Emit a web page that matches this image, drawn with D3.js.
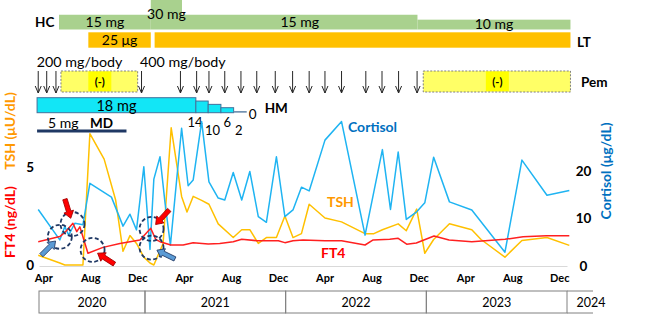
<!DOCTYPE html>
<html>
<head>
<meta charset="utf-8">
<script src="https://cdn.jsdelivr.net/npm/d3@7"></script>
<style>
  body { margin: 0; background: #fff; }
  svg { display: block; font-family: Lato, "Open Sans", sans-serif; }
</style>
</head>
<body>
<svg width="665" height="324"></svg>
<script>
// lab values, [sampling date, value]
const cortisol = [
  ["2020-03-30", 11.9], ["2020-05-25", 5.5], ["2020-06-07", 8.3], ["2020-06-17", 6.5],
  ["2020-07-03", 9.0], ["2020-07-24", 8.7], ["2020-08-11", 17.4], ["2020-10-06", 14.5],
  ["2020-11-05", 8.4], ["2020-11-23", 10.9], ["2020-12-10", 7.6], ["2020-12-29", 20.9],
  ["2021-01-14", 3.5], ["2021-01-24", 18.3], ["2021-02-09", 23.0], ["2021-02-22", 13.3],
  ["2021-03-08", 4.4], ["2021-04-06", 29.0], ["2021-04-23", 16.9], ["2021-05-06", 18.1],
  ["2021-05-28", 30.4], ["2021-06-16", 17.7], ["2021-07-10", 14.3], ["2021-07-27", 13.9],
  ["2021-08-18", 19.7], ["2021-09-09", 13.9], ["2021-09-30", 19.9], ["2021-10-22", 10.4],
  ["2021-11-12", 9.2], ["2021-12-08", 23.0], ["2021-12-30", 10.4], ["2022-01-20", 11.8],
  ["2022-02-11", 16.6], ["2022-03-03", 15.8], ["2022-04-13", 26.5], ["2022-05-26", 30.4],
  ["2022-07-26", 6.5], ["2022-09-09", 24.5], ["2022-09-30", 11.9], ["2022-10-20", 24.0],
  ["2022-11-10", 9.8], ["2022-12-07", 11.4], ["2022-12-28", 13.3], ["2023-01-20", 22.9],
  ["2023-03-02", 13.5], ["2023-04-29", 11.8], ["2023-07-24", 2.9], ["2023-09-06", 22.3],
  ["2023-11-10", 14.9], ["2024-01-07", 15.9]
];

const tsh = [
  ["2020-03-30", 0.5], ["2020-05-25", 0.1], ["2020-06-07", 0.0], ["2020-06-17", 0.0],
  ["2020-07-03", 0.0], ["2020-07-24", 0.0], ["2020-08-11", 6.7], ["2020-09-17", 5.4],
  ["2020-10-17", 3.3], ["2020-11-05", 0.7], ["2020-11-23", 1.5], ["2020-12-10", 1.1],
  ["2020-12-29", 0.4], ["2021-01-14", 0.1], ["2021-01-24", 0.0], ["2021-02-17", 1.1],
  ["2021-03-10", 7.0], ["2021-04-06", 3.5], ["2021-04-20", 2.7], ["2021-05-06", 3.5],
  ["2021-05-28", 3.3], ["2021-06-16", 3.1], ["2021-07-10", 2.1], ["2021-08-18", 1.4],
  ["2021-09-09", 1.8], ["2021-09-30", 1.8], ["2021-10-22", 1.1], ["2021-11-12", 1.4],
  ["2021-12-08", 1.4], ["2021-12-30", 2.5], ["2022-01-20", 1.4], ["2022-02-11", 1.6],
  ["2022-03-03", 3.1], ["2022-04-13", 2.4], ["2022-05-26", 2.2], ["2022-07-26", 1.6],
  ["2022-08-18", 1.6], ["2022-09-09", 1.8], ["2022-10-20", 2.1], ["2022-11-10", 1.75],
  ["2022-12-07", 2.85], ["2022-12-28", 0.6], ["2023-01-20", 1.3], ["2023-03-02", 2.1],
  ["2023-04-29", 1.8], ["2023-05-23", 1.3], ["2023-07-24", 0.4], ["2023-09-06", 1.25],
  ["2023-11-10", 1.4], ["2024-01-07", 1.0]
];

const ft4 = [
  ["2020-03-30", 1.19], ["2020-05-25", 1.45], ["2020-06-09", 1.7], ["2020-06-28", 2.13],
  ["2020-07-08", 1.7], ["2020-07-16", 1.95], ["2020-08-06", 0.6], ["2020-09-14", 0.9],
  ["2020-10-28", 1.1], ["2020-12-19", 1.28], ["2021-01-16", 1.87], ["2021-01-29", 1.3],
  ["2021-02-09", 1.19], ["2021-03-09", 1.02], ["2021-04-10", 1.02], ["2021-05-06", 1.14],
  ["2021-06-14", 1.07], ["2021-07-14", 1.1], ["2021-08-18", 1.19], ["2021-09-09", 1.31],
  ["2021-10-18", 1.24], ["2021-12-13", 1.24], ["2021-12-30", 1.14], ["2022-01-20", 1.24],
  ["2022-02-15", 1.28], ["2022-04-13", 1.24], ["2022-05-26", 1.24], ["2022-07-26", 1.02],
  ["2022-08-16", 1.28], ["2022-09-28", 1.31], ["2022-10-20", 1.36], ["2022-11-11", 1.06],
  ["2022-12-06", 1.12], ["2023-01-21", 1.48], ["2023-03-01", 1.28], ["2023-04-29", 1.19],
  ["2023-07-24", 1.31], ["2023-09-09", 1.44], ["2023-11-09", 1.49], ["2024-01-07", 1.49]
];

// treatment timeline: [start, end, dose, label]
const hcSteps = [
  ["2020-05-23", "2021-01-16", 15, "15 mg"],
  ["2021-01-16", "2021-04-07", 30, "30 mg"],
  ["2021-04-07", "2022-12-09", 15, "15 mg"],
  ["2022-12-09", "2024-01-10", 10, "10 mg"]
];
const ltSteps = [
  ["2020-08-07", "2021-01-16", 25, "25 μg"],
  ["2021-01-26", "2024-01-10", 25, ""]
];
const hmSteps = [
  ["2020-03-27", "2021-05-13", 18, "18 mg"],
  ["2021-05-13", "2021-06-14", 14, "14"],
  ["2021-06-14", "2021-07-17", 10, "10"],
  ["2021-07-17", "2021-08-19", 6, "6"],
  ["2021-08-19", "2021-09-22", 2, "2"]
];
const mdSteps = [["2020-03-27", "2020-11-14", 5, "5 mg"]];
const pemDoses = [
  "2020-03-30", "2020-04-21", "2020-05-15", "2020-12-23", "2021-04-03", "2021-05-15",
  "2021-06-16", "2021-07-27", "2021-09-07", "2021-10-18", "2021-12-05", "2022-01-19",
  "2022-03-03", "2022-04-13", "2022-05-26", "2022-07-28", "2022-09-08", "2022-10-21",
  "2022-12-08"
];
const pemLabels = [["2020-03-30", "200 mg/body"], ["2020-12-23", "400 mg/body"]];
const pemPauses = [["2020-05-28", "2020-12-13"], ["2022-12-24", "2024-01-10"]];

// circled points (TSH/FT4 scale) and the arrows pointing at them
const circled = [
  ["2020-05-25", 1.44], ["2020-06-27", 2.09], ["2020-08-18", 0.77],
  ["2021-01-18", 1.84], ["2021-01-18", 0.89]
];
const arrows = [[0, "blue", 135], [1, "red", -107], [2, "red", 33], [3, "red", -47], [4, "blue", 26]];

const monthTicks = [
  "2020-04-12", "2020-08-12", "2020-12-12", "2021-04-12", "2021-08-12", "2021-12-12",
  "2022-04-12", "2022-08-12", "2022-12-12", "2023-04-12", "2023-08-12", "2023-12-12"
];
const years = [
  ["2020", "2020-04-01", "2021-01-01"], ["2021", "2021-01-01", "2022-01-01"],
  ["2022", "2022-01-01", "2023-01-01"], ["2023", "2023-01-01", "2024-01-01"]
];

const parse = d3.timeParse("%Y-%m-%d");
const svg = d3.select("svg");

const x = d3.scaleTime()
  .domain([parse("2020-04-01"), parse("2024-01-01")])
  .range([39, 567]);
const yLeft = d3.scaleLinear().domain([0, 5]).range([265, 167]);
const yRight = d3.scaleLinear().domain([0, 20]).range([266, 171]);

const hcH = d3.scaleLinear().domain([0, 30]).range([0, 29.5]);
const hmH = d3.scaleLinear().domain([0, 18]).range([0, 15]);

const xd = s => x(parse(s));

// ---- HC bars
const hcBase = 29.5;
const hcG = svg.append("g");
hcG.selectAll("rect").data(hcSteps).enter().append("rect")
  .attr("x", d => xd(d[0]))
  .attr("width", d => xd(d[1]) - xd(d[0]))
  .attr("y", d => hcBase - hcH(d[2]))
  .attr("height", d => hcH(d[2]))
  .attr("fill", "#A9D18E");
hcG.selectAll("text").data(hcSteps).enter().append("text")
  .attr("x", d => (xd(d[0]) + xd(d[1])) / 2)
  .attr("y", d => hcBase - hcH(d[2]) / 2 + 4.5)
  .attr("text-anchor", "middle")
  .attr("font-size", 14)
  .text(d => d[3]);

// ---- LT bars
const ltG = svg.append("g");
ltG.selectAll("rect").data(ltSteps).enter().append("rect")
  .attr("x", d => xd(d[0]))
  .attr("width", d => xd(d[1]) - xd(d[0]))
  .attr("y", 32.3)
  .attr("height", 15.4)
  .attr("fill", "#FFC000");
ltG.selectAll("text").data(ltSteps).enter().append("text")
  .attr("x", d => (xd(d[0]) + xd(d[1])) / 2)
  .attr("y", 45)
  .attr("text-anchor", "middle")
  .attr("font-size", 14)
  .text(d => d[3]);

// ---- Pem
const pemG = svg.append("g");
const pause = pemG.selectAll(".pause").data(pemPauses).enter().append("g").attr("class", "pause");
pause.append("rect")
  .attr("x", d => xd(d[0]))
  .attr("width", d => xd(d[1]) - xd(d[0]))
  .attr("y", 71).attr("height", 21)
  .attr("fill", "#FFFF66")
  .attr("stroke", "#7F7F7F")
  .attr("stroke-width", 1)
  .attr("stroke-dasharray", "2,1.5");
pause.append("rect")
  .attr("x", d => (xd(d[0]) + xd(d[1])) / 2 - 11)
  .attr("width", 23)
  .attr("y", 71.5).attr("height", 19.5)
  .attr("fill", "#FFFF00");
pause.append("text")
  .attr("x", d => (xd(d[0]) + xd(d[1])) / 2 + 0.5)
  .attr("y", 85.5)
  .attr("text-anchor", "middle")
  .attr("font-size", 11)
  .attr("font-weight", "bold")
  .text("(-)");

const doseArrow = pemG.selectAll(".dose").data(pemDoses).enter().append("g")
  .attr("class", "dose")
  .attr("transform", d => `translate(${xd(d)},0)`)
  .attr("stroke", "#262626")
  .attr("stroke-width", 1)
  .attr("fill", "none");
doseArrow.append("line").attr("y1", 71).attr("y2", 93);
doseArrow.append("path").attr("d", "M-3,86L0,93L3,86");

pemG.selectAll(".plabel").data(pemLabels).enter().append("text")
  .attr("class", "plabel")
  .attr("x", d => xd(d[0]) - 1.5)
  .attr("y", 66.5)
  .attr("font-size", 14.3)
  .text(d => d[1]);

// ---- HM steps
const hmBase = 112.7;
const hmG = svg.append("g");
hmG.selectAll("rect").data(hmSteps).enter().append("rect")
  .attr("x", d => xd(d[0]))
  .attr("width", d => xd(d[1]) - xd(d[0]))
  .attr("y", d => hmBase - hmH(d[2]))
  .attr("height", d => hmH(d[2]))
  .attr("fill", d => d[2] > 2 ? "#12E6F6" : "#6F8FAF")
  .attr("stroke", d => d[2] > 2 ? "#41719C" : "none")
  .attr("stroke-width", 1);
hmG.append("text")
  .attr("x", (xd(hmSteps[0][0]) + xd(hmSteps[0][1])) / 2)
  .attr("y", 110.5)
  .attr("text-anchor", "middle")
  .attr("font-size", 14.5)
  .text(hmSteps[0][3]);
// taper labels sit under their steps, staggered up/down
const stepDx = [-7, -2, 0, -1.5];
hmG.selectAll(".step").data(hmSteps.slice(1)).enter().append("text")
  .attr("class", "step")
  .attr("x", (d, i) => (xd(d[0]) + xd(d[1])) / 2 + stepDx[i])
  .attr("y", (d, i) => i % 2 ? 134.5 : 127)
  .attr("text-anchor", "middle")
  .attr("font-size", 13)
  .text(d => d[3]);
const hmEnd = xd(hmSteps[hmSteps.length - 1][1]);
hmG.append("text").attr("x", hmEnd + 2).attr("y", 118.5).attr("font-size", 13.5).text("0");
hmG.append("text").attr("x", hmEnd + 18).attr("y", 113)
  .attr("font-size", 13.5).attr("font-weight", "bold").text("HM");

// ---- MD
const mdG = svg.append("g");
mdG.selectAll("line").data(mdSteps).enter().append("line")
  .attr("x1", d => xd(d[0])).attr("x2", d => xd(d[1]))
  .attr("y1", 131).attr("y2", 131)
  .attr("stroke", "#1F3864").attr("stroke-width", 3);
mdG.selectAll("text").data(mdSteps).enter().append("text")
  .attr("x", d => xd(d[0]) + 11)
  .attr("y", 127.5)
  .attr("font-size", 14)
  .text(d => d[3]);
mdG.append("text").attr("x", 90).attr("y", 127.5)
  .attr("font-size", 13.5).attr("font-weight", "bold").text("MD");

// row labels
svg.append("text").attr("x", 35).attr("y", 27)
  .attr("font-size", 13.5).attr("font-weight", "bold").text("HC");
svg.append("text").attr("x", 577).attr("y", 47)
  .attr("font-size", 13.5).attr("font-weight", "bold").text("LT");
svg.append("text").attr("x", 581).attr("y", 87)
  .attr("font-size", 13.5).attr("font-weight", "bold").text("Pem");

// ---- axes
const xAxisG = svg.append("g")
  .attr("transform", "translate(0,266)")
  .call(d3.axisBottom(x)
    .tickValues(monthTicks.map(parse))
    .tickFormat(d3.timeFormat("%b"))
    .tickSize(0).tickSizeOuter(0).tickPadding(8.5));
xAxisG.select(".domain").attr("stroke", "#D9D9D9");
xAxisG.selectAll("text").attr("font-size", 11).attr("font-weight", "bold")
  .attr("font-family", "Lato").attr("fill", "#000");

const yLeftG = svg.append("g")
  .attr("transform", "translate(37,0)")
  .call(d3.axisLeft(yLeft).tickValues([0, 5]).tickFormat(d3.format("d"))
    .tickSize(0).tickPadding(3));
yLeftG.select(".domain").remove();
yLeftG.selectAll("text").attr("font-size", 13.5).attr("font-weight", "bold")
  .attr("font-family", "Lato").attr("fill", "#000");

const yRightG = svg.append("g")
  .attr("transform", "translate(575,0)")
  .call(d3.axisRight(yRight).tickValues([0, 10, 20]).tickSize(0).tickPadding(0));
yRightG.select(".domain").remove();
yRightG.selectAll("text").attr("font-size", 13.5).attr("font-weight", "bold")
  .attr("font-family", "Lato").attr("fill", "#000")
  .attr("text-anchor", "middle").attr("x", 8.5);

// axis titles
svg.append("text")
  .attr("transform", "translate(15,222) rotate(-90)")
  .attr("text-anchor", "middle")
  .attr("font-size", 14).attr("font-weight", "bold").attr("fill", "#FF0000")
  .text("FT4 (ng/dL)");
svg.append("text")
  .attr("transform", "translate(15,131) rotate(-90)")
  .attr("text-anchor", "middle")
  .attr("font-size", 14).attr("font-weight", "bold").attr("fill", "#FF9900")
  .text("TSH (μU/dL)");
svg.append("text")
  .attr("transform", "translate(611,171) rotate(-90)")
  .attr("text-anchor", "middle")
  .attr("font-size", 14).attr("font-weight", "bold").attr("fill", "#0070C0")
  .text("Cortisol (μg/dL)");

// ---- year boxes
const yearG = svg.append("g").attr("font-size", 12.5);
yearG.selectAll("rect").data(years).enter().append("rect")
  .attr("x", d => xd(d[1]))
  .attr("width", d => xd(d[2]) - xd(d[1]))
  .attr("y", 291).attr("height", 22)
  .attr("fill", "none").attr("stroke", "#808080");
yearG.selectAll("text").data(years).enter().append("text")
  .attr("x", d => (xd(d[1]) + xd(d[2])) / 2)
  .attr("y", 306.5)
  .attr("text-anchor", "middle")
  .text(d => d[0]);
const y24 = xd("2024-01-01");
yearG.append("path").attr("d", `M${y24},291H${y24 + 26}M${y24},313H${y24 + 26}`)
  .attr("stroke", "#808080").attr("fill", "none");
yearG.append("text").attr("x", y24 + 24).attr("y", 306.5)
  .attr("text-anchor", "middle").text("2024");

// ---- data lines
const lineOf = y => d3.line().x(d => xd(d[0])).y(d => y(d[1]));
const lines = svg.append("g").attr("fill", "none").attr("stroke-width", 1.5)
  .attr("stroke-linejoin", "round");
lines.append("path").datum(tsh).attr("stroke", "#FFC000").attr("d", lineOf(yLeft));
lines.append("path").datum(cortisol).attr("stroke", "#1FB4F2").attr("d", lineOf(yRight));
lines.append("path").datum(ft4).attr("stroke", "#FF2020").attr("d", lineOf(yLeft));

// series labels
svg.append("text").attr("x", 348).attr("y", 132)
  .attr("font-size", 14).attr("font-weight", "bold").attr("fill", "#0070C0").text("Cortisol");
svg.append("text").attr("x", 327).attr("y", 207)
  .attr("font-size", 14).attr("font-weight", "bold").attr("fill", "#FF9900").text("TSH");
svg.append("text").attr("x", 321).attr("y", 258)
  .attr("font-size", 14).attr("font-weight", "bold").attr("fill", "#FF0000").text("FT4");

// ---- circles and arrows
const annG = svg.append("g");
annG.selectAll("circle").data(circled).enter().append("circle")
  .attr("cx", d => xd(d[0]))
  .attr("cy", d => yLeft(d[1]))
  .attr("r", 12)
  .attr("fill", "none")
  .attr("stroke", "#1F3864")
  .attr("stroke-width", 1.8)
  .attr("stroke-dasharray", "4,2.5");

const T = 26, t = 6, w = 4.5, H = 10, h = 7;
const arrowPath = `M${T},${-w / 2}L${t + h},${-w / 2}L${t + h},${-H / 2}L${t},0L${t + h},${H / 2}L${t + h},${w / 2}L${T},${w / 2}Z`;
annG.selectAll("path").data(arrows).enter().append("path")
  .attr("transform", d => {
    const c = circled[d[0]];
    return `translate(${xd(c[0])},${yLeft(c[1])}) rotate(${d[2]})`;
  })
  .attr("d", arrowPath)
  .attr("fill", d => d[1] === "red" ? "#FF0000" : "#5B9BD5")
  .attr("stroke", d => d[1] === "red" ? "#A00000" : "#1F3864")
  .attr("stroke-width", 0.8);
</script>
</body>
</html>
